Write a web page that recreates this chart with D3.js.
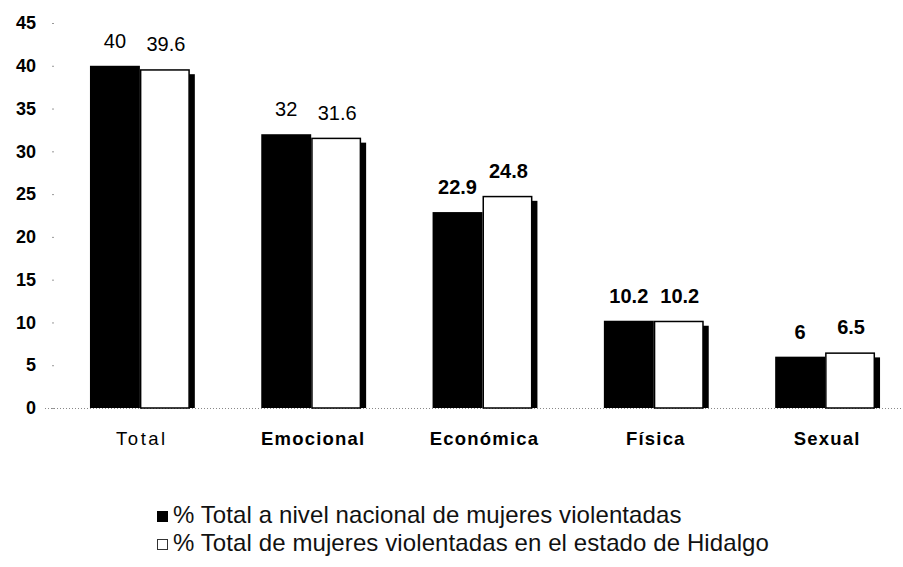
<!DOCTYPE html>
<html>
<head>
<meta charset="utf-8">
<script src="https://cdn.jsdelivr.net/npm/d3@7"></script>
<style>
  body { margin: 0; background: #fff; }
  svg { display: block; font-family: "Liberation Sans", Arial, sans-serif; }
</style>
</head>
<body>
<svg id="chart" width="903" height="567"></svg>
<script>
const categories = ["Total", "Emocional", "Económica", "Física", "Sexual"];
const nacional = [40, 32, 22.9, 10.2, 6];
const hidalgo = [39.6, 31.6, 24.8, 10.2, 6.5];
const yTicks = [0, 5, 10, 15, 20, 25, 30, 35, 40, 45];
const seriesNames = ["% Total a nivel nacional de mujeres violentadas",
                     "% Total de mujeres violentadas en el estado de Hidalgo"];

const svg = d3.select("#chart");
const y = d3.scaleLinear().domain([0, 45]).range([408, 23]);
const x0 = d3.scaleBand().domain(categories).range([55.7, 909.3]).paddingInner(0.417).paddingOuter(0.2);
const x1 = d3.scaleBand().domain([0, 1]).range([0, x0.bandwidth()]);

// baseline dotted
svg.append("line").attr("x1", 45).attr("x2", 903).attr("y1", y(0) + 0.5).attr("y2", y(0) + 0.5)
  .attr("stroke", "#888").attr("stroke-width", 1).attr("stroke-dasharray", "1,2");

// y axis
const yAxis = d3.axisLeft(y).tickValues(yTicks).tickSize(2).tickPadding(16);
const ga = svg.append("g").attr("transform", "translate(54,0)").call(yAxis);
ga.select(".domain").remove();
ga.selectAll(".tick line").attr("stroke", "#999");
ga.selectAll(".tick text").attr("font-size", 18).attr("font-weight", "bold").attr("fill", "#000")
  .attr("font-family", "'Liberation Sans', Arial, sans-serif");

const groups = svg.append("g").selectAll("g").data(categories).join("g")
  .attr("transform", d => `translate(${x0(d)},0)`);

// shadow for white bar
groups.append("rect")
  .attr("x", (d, i) => x1(1) + 5)
  .attr("y", (d, i) => y(hidalgo[i]) + 5)
  .attr("width", x1.bandwidth())
  .attr("height", (d, i) => y(0) - y(hidalgo[i]) - 5)
  .attr("fill", "#000");

// black bars
groups.append("rect")
  .attr("x", x1(0))
  .attr("y", (d, i) => y(nacional[i]))
  .attr("width", x1.bandwidth())
  .attr("height", (d, i) => y(0) - y(nacional[i]))
  .attr("fill", "#000");

// white bars
groups.append("rect")
  .attr("x", x1(1) + 0.75)
  .attr("y", (d, i) => y(hidalgo[i]) + 0.75)
  .attr("width", x1.bandwidth() - 1.5)
  .attr("height", (d, i) => y(0) - y(hidalgo[i]) - 0.75)
  .attr("fill", "#fff").attr("stroke", "#000").attr("stroke-width", 1.5);

// value labels
groups.append("text")
  .attr("x", x1(0) + x1.bandwidth() / 2)
  .attr("y", (d, i) => y(nacional[i]) - 18)
  .attr("text-anchor", "middle").attr("font-size", 20)
  .attr("font-weight", (d, i) => i < 2 ? "normal" : "bold")
  .text((d, i) => nacional[i]);
groups.append("text")
  .attr("x", x1(1) + x1.bandwidth() / 2 + 1)
  .attr("y", (d, i) => y(hidalgo[i]) - 18)
  .attr("text-anchor", "middle").attr("font-size", 20)
  .attr("font-weight", (d, i) => i < 2 ? "normal" : "bold")
  .text((d, i) => hidalgo[i]);

// category labels
groups.append("text")
  .attr("x", x0.bandwidth() / 2 + 2)
  .attr("y", 445)
  .attr("text-anchor", "middle").attr("font-size", 18.5)
  .attr("letter-spacing", (d, i) => i === 0 ? 2.5 : 1.2)
  .attr("font-weight", (d, i) => i < 1 ? "normal" : "bold")
  .text(d => d);

// legend
const lg = svg.append("g");
seriesNames.forEach((name, i) => {
  const yy = 511 + i * 28;
  lg.append("rect").attr("x", 157.5).attr("y", yy + 0.5).attr("width", 10).attr("height", 10)
    .attr("fill", i === 0 ? "#000" : "#fff").attr("stroke", i === 0 ? "#000" : "#333").attr("stroke-width", 1);
  lg.append("text").attr("x", 173).attr("y", yy + 11.5).attr("font-size", 24).attr("letter-spacing", 0.1)
    .attr("fill", "#111").text(name);
});
</script>
</body>
</html>
